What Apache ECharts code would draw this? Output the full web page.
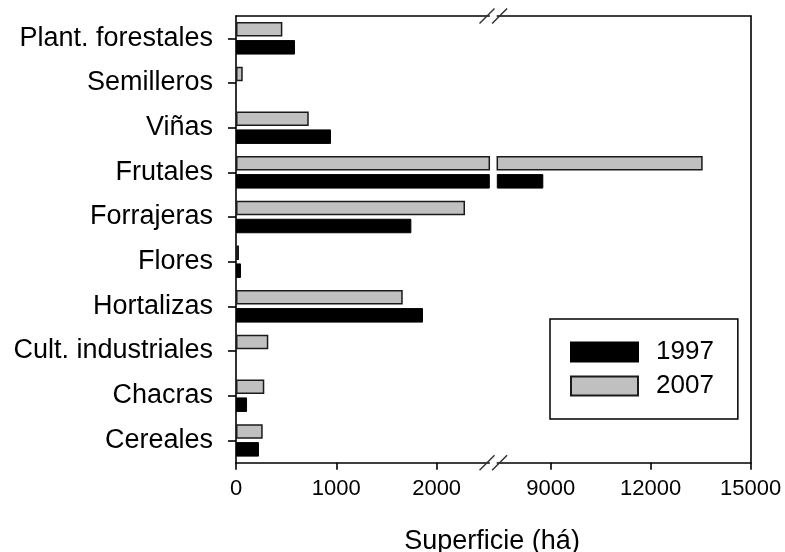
<!DOCTYPE html>
<html><head><meta charset="utf-8">
<script src="https://cdn.jsdelivr.net/npm/echarts@6/dist/echarts.min.js"></script>
<style>html,body{margin:0;padding:0;background:#fff}#c{width:785px;height:552px}</style>
</head><body><div id="c"></div>
<script>
// ---- data ----
const categories = ['Plant. forestales','Semilleros','Viñas','Frutales','Forrajeras','Flores','Hortalizas','Cult. industriales','Chacras','Cereales'];
const values1997 = [588, 0, 947, 8780, 1748, 50, 1864, 0, 110, 229];
const values2007 = [462, 67, 725, 13560, 2283, 30, 1662, 322, 282, 266];
const leftTicks = [0, 1000, 2000];
const rightTicks = [9000, 12000, 15000];
const legendLabels = ['1997', '2007'];
const axisTitle = 'Superficie (há)';

(function () {
// ---- layout ----
const FONT = "'Liberation Sans', Arial, sans-serif";
const plotTop = 16, plotBottom = 462.7;
const leftX = 236, leftEnd = 489.3, rightStart = 497.3, rightEnd = 750.7;
const leftMax = 2525, rightMin = 7400, rightMax = 15000;
const LW = 1.6;
const black = '#000';

const chart = echarts.init(document.getElementById('c'), null, {renderer: 'canvas'});

function lineAxis(gridIndex, min, max, pos) {
  return {type: 'value', gridIndex, min, max, position: pos,
    axisLine: {show: true, onZero: false, lineStyle: {color: black, width: LW}},
    axisTick: {show: false}, axisLabel: {show: false}, splitLine: {show: false}};
}
function tickAxis(gridIndex, min, max, ticks) {
  return {type: 'value', gridIndex, min, max, position: 'bottom',
    axisLine: {show: true, onZero: false, lineStyle: {color: black, width: LW}},
    axisTick: {show: true, customValues: ticks, length: 7, lineStyle: {color: black, width: LW}},
    axisLabel: {show: true, customValues: ticks, margin: 15, fontSize: 22, color: black, fontFamily: FONT,
      formatter: v => String(v)},
    splitLine: {show: false}};
}
const data97 = values1997.map(v => v === 0 ? null : v);
const data07 = values2007.map(v => v === 0 ? null : v);
const grayStyle = {color: '#c0c0c0', borderColor: '#1a1a1a', borderWidth: 1.5};
const blackStyle = {color: '#000', borderColor: '#000', borderWidth: 1};
const barCommon = {type: 'bar', barWidth: 14.5, barGap: '24%', clip: true, animation: false};

function slash(cx, cy) {
  return {type: 'line', shape: {x1: cx - 7.5, y1: cy + 7.5, x2: cx + 7.5, y2: cy - 7.5},
    style: {stroke: '#333', lineWidth: 1.5}, z: 100};
}
const gapC = (leftEnd + rightStart) / 2;

chart.setOption({
  animation: false,
  backgroundColor: '#fff',
  textStyle: {fontFamily: FONT},
  title: {text: axisTitle, left: gapC - 94, top: 523,
    textStyle: {fontSize: 27, fontWeight: 'normal', color: black, fontFamily: FONT}},
  legend: {data: legendLabels, orient: 'vertical', left: 550, top: 319,
    padding: [20, 24, 20, 20], itemWidth: 67, itemHeight: 19, itemGap: 8,
    borderColor: black, borderWidth: 1.5, icon: 'rect',
    textStyle: {fontSize: 26, color: black, fontFamily: FONT, padding: [0, 0, 0, 13]}},
  grid: [
    {left: leftX, top: plotTop, width: leftEnd - leftX, height: plotBottom - plotTop},
    {left: rightStart, top: plotTop, width: rightEnd - rightStart, height: plotBottom - plotTop}
  ],
  xAxis: [
    tickAxis(0, 0, leftMax, leftTicks),
    lineAxis(0, 0, leftMax, 'top'),
    tickAxis(1, rightMin, rightMax, rightTicks),
    lineAxis(1, rightMin, rightMax, 'top')
  ],
  yAxis: [
    {type: 'category', gridIndex: 0, data: categories, inverse: true, position: 'left',
      axisLine: {show: true, lineStyle: {color: black, width: LW}},
      axisTick: {show: true, alignWithLabel: true, length: 8, lineStyle: {color: black, width: LW}},
      axisLabel: {fontSize: 27, color: black, margin: 23, fontFamily: FONT}},
    {type: 'category', gridIndex: 1, data: categories, inverse: true, position: 'right',
      axisLine: {show: true, lineStyle: {color: black, width: LW}},
      axisTick: {show: false}, axisLabel: {show: false}}
  ],
  series: [
    Object.assign({}, barCommon, {name: '2007', xAxisIndex: 0, yAxisIndex: 0, data: data07, itemStyle: grayStyle}),
    Object.assign({}, barCommon, {name: '1997', xAxisIndex: 0, yAxisIndex: 0, data: data97, itemStyle: blackStyle}),
    Object.assign({}, barCommon, {name: '2007', xAxisIndex: 2, yAxisIndex: 1, data: data07, itemStyle: grayStyle}),
    Object.assign({}, barCommon, {name: '1997', xAxisIndex: 2, yAxisIndex: 1, data: data97, itemStyle: blackStyle})
  ],
  graphic: [
    slash(gapC - 6.3, plotTop), slash(gapC + 6.3, plotTop),
    slash(gapC - 6.3, plotBottom), slash(gapC + 6.3, plotBottom)
  ]
});
})();
</script>
</body></html>
